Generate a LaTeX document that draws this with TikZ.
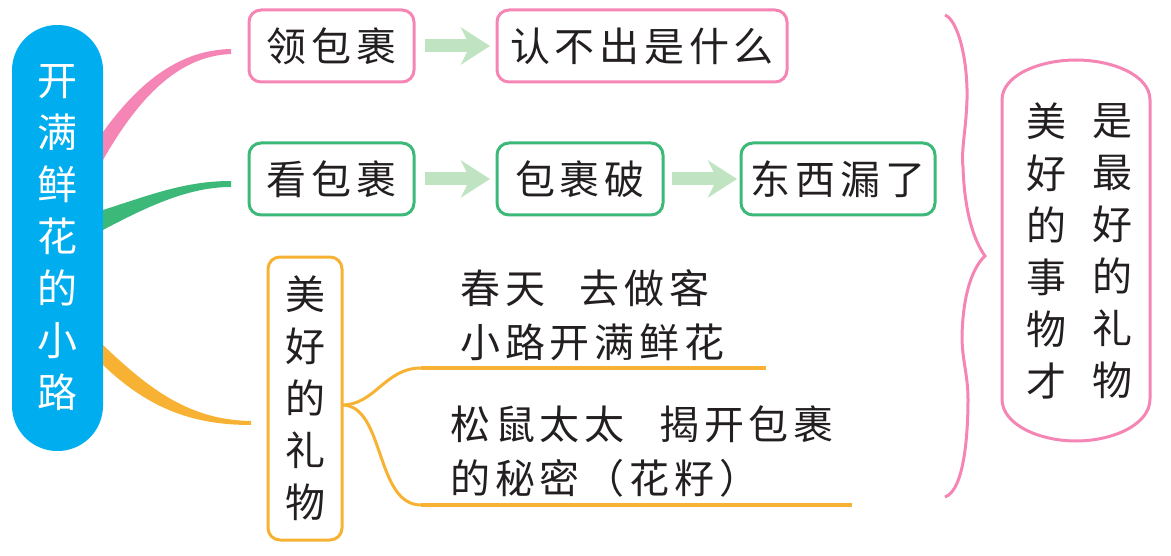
\documentclass[tikz,border=0pt]{standalone}
\usepackage{fontspec}
\usetikzlibrary{positioning,arrows.meta}
\newfontfamily\cjk[LetterSpace=12]{Noto Sans CJK SC}
\newfontfamily\cjkcol{Noto Sans CJK SC}
\definecolor{skyblue}{HTML}{00AEEF}
\definecolor{pinkline}{HTML}{F485B4}
\definecolor{greenline}{HTML}{3CB878}
\definecolor{orangeline}{HTML}{F7B233}
\definecolor{arrowgreen}{HTML}{C0E4C2}
\definecolor{inkblack}{HTML}{231F20}

\begin{document}
\begin{tikzpicture}[x=0.75pt,y=-0.75pt,
    wordbox/.style = {rectangle, draw, line width=2.25pt, rounded corners=9pt, outer sep=0pt, inner sep=0pt,
       minimum height=54pt, text=inkblack, font=\cjk\fontsize{30}{39}\selectfont},
    plaintext/.style = {anchor=west, inner sep=0pt, text=inkblack, font=\cjk\fontsize{30}{39}\selectfont},
    coltext/.style = {align=center, inner sep=0pt, text=inkblack, font=\cjkcol\fontsize{30}{39}\selectfont},
    goarrow/.style = {-{Stealth[length=21.75pt,width=27.75pt,inset=6.75pt]}, arrowgreen, line width=9.75pt},
    branchline/.style = {orangeline, line width=2.25pt}]
  \useasboundingbox (0,0) rectangle (1171,556);

  \node[rectangle, fill=skyblue, rounded corners=34pt, minimum width=68.25pt, minimum height=319.5pt,
     inner sep=0pt, outer sep=0pt, align=center, text=white, font=\cjkcol\fontsize{30}{39}\selectfont]
     (root) at (57.5,238) {开\\满\\鲜\\花\\的\\小\\路};

  \node[wordbox, draw=pinkline, minimum width=123.75pt] (ling) at (331.5,46) {领包裹};
  \node[wordbox, draw=pinkline, minimum width=217.5pt] (renbuchu) [right=62.25pt of ling] {认不出是什么};
  \node[wordbox, draw=greenline, minimum width=123.75pt] (kan) [below=45.75pt of ling] {看包裹};
  \node[wordbox, draw=greenline, minimum width=124.5pt] (po) [right=62.25pt of kan] {包裹破};
  \node[wordbox, draw=greenline, minimum width=145.5pt] (lou) [right=58.5pt of po] {东西漏了};
  \node[wordbox, draw=orangeline, align=center, minimum width=55.5pt, minimum height=212.25pt,
     font=\cjkcol\fontsize{30}{39}\selectfont] (gift) at (305,398.5) {美\\好\\的\\礼\\物};

  \node[plaintext] (chun) at (460,288) {春天\hspace{26pt}去做客};
  \node[plaintext] (road) at (460,342) {小路开满鲜花};
  \node[plaintext] (song) at (450,424) {松鼠太太\hspace{26pt}揭开包裹};
  \node[plaintext] (secret) at (450,478) {的秘密（花籽）};

  \node[coltext] (col1) at (1046,251) {美\\好\\的\\事\\物\\才};
  \node[coltext] (col2) at (1112,251) {是\\最\\好\\的\\礼\\物};

  % green arrows
  \draw[goarrow] ([xshift=8.25pt]ling.east) -- ([xshift=-5.25pt]renbuchu.west);
  \draw[goarrow] ([xshift=8.25pt]kan.east) -- ([xshift=-5.25pt]po.west);
  \draw[goarrow] ([xshift=6.75pt]po.east) -- ([xshift=-3pt]lou.west);

  % tapered branches
  \coordinate (p1) at (231,49);
  \coordinate (p2) at (231,181);
  \coordinate (p3) at (251,421);
  \fill[pinkline] (103,132) .. controls (135,88) and (175,50) .. (p1) -- ([yshift=-3.75pt]p1)
     .. controls (180,56) and (140,95) .. (103,160) -- cycle;
  \fill[greenline] (103,210) .. controls (150,195) and (185,181) .. (p2) -- ([yshift=-4.5pt]p2)
     .. controls (190,187) and (150,205) .. (103,230) -- cycle;
  \fill[orangeline] (103,345) .. controls (150,390) and (190,420) .. (p3) -- ([yshift=-3pt]p3)
     .. controls (195,425) and (150,410) .. (103,365) -- cycle;

  % gift branches
  \coordinate (t1) at (421,368);
  \coordinate (t2) at (766,368);
  \coordinate (b1) at (421,505);
  \coordinate (b2) at (852,505);
  \coordinate (fork) at (342,405);
  \draw[branchline] (fork) .. controls (375,405) and (385,368) .. (t1);
  \draw[branchline] (fork) .. controls (385,405) and (375,505) .. (b1);
  \draw[orangeline, line width=3pt] (t1) -- (t2);
  \draw[orangeline, line width=3pt] (b1) -- (b2);

  % brace
  \coordinate (bracetop) at (945,15);
  \coordinate (bracetip) at (985,256);
  \coordinate (bracebot) at (945,497);
  \draw[pinkline, line width=2.25pt] (bracetop) .. controls (958,20) and (968,60) .. (967,100)
     .. controls (966,130) and (961,150) .. (963,167)
     .. controls (964,200) and (970,235) .. (bracetip)
     .. controls (972,268) and (963,295) .. (962,336)
     .. controls (962,360) and (968,375) .. (968,399)
     .. controls (968,430) and (965,490) .. (bracebot);

  % summary outline
  \coordinate (nw) at (1002,100);
  \coordinate (ne) at (1150,100);
  \coordinate (se) at (1150,399);
  \coordinate (sw) at (1002,399);
  \draw[pinkline, line width=2.25pt] (nw) .. controls (1002,75) and (1040,60) .. (1076,60)
     .. controls (1112,60) and (1150,75) .. (ne) -- (se)
     .. controls (1150,425) and (1112,441) .. (1076,441)
     .. controls (1040,441) and (1002,425) .. (sw) -- cycle;
\end{tikzpicture}
\end{document}
